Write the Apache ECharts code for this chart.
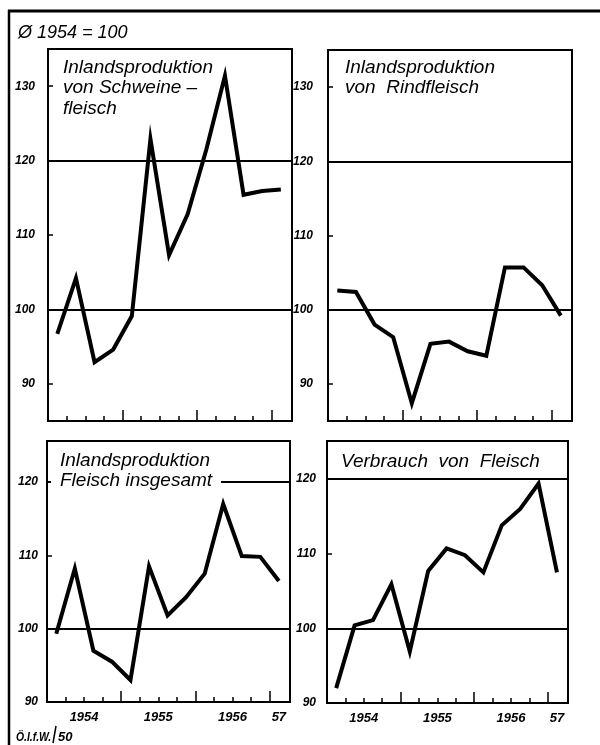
<!DOCTYPE html>
<html><head><meta charset="utf-8">
<script src="https://cdn.jsdelivr.net/npm/echarts@6/dist/echarts.min.js"></script>
<style>html,body{margin:0;padding:0;background:#fff}#c{width:600px;height:745px}</style>
</head><body><div id="c"></div>
<script>
// ---- data ----
const quarters = ['1954 I','1954 II','1954 III','1954 IV','1955 I','1955 II','1955 III','1955 IV','1956 I','1956 II','1956 III','1956 IV','1957 I'];
const schweinefleisch = [96.7,104.2,92.9,94.6,99.1,122.9,107.3,112.8,121.5,131.4,115.4,115.9,116.1];
const rindfleisch     = [102.6,102.4,98.0,96.3,87.4,95.4,95.7,94.4,93.8,105.7,105.7,103.3,99.2];
const fleischGesamt   = [99.3,108.2,97.0,95.5,93.0,108.5,101.8,104.3,107.5,117.0,109.9,109.8,106.5];
const verbrauch       = [92.0,100.4,101.1,105.9,96.9,107.7,110.7,109.8,107.5,113.8,116.0,119.4,107.5];
const yearLabels = ['1954','1955','1956','57'];
const yTicksTop = [90,100,110,120,130];
const yTicksBottom = [90,100,110,120];
const refLines = [100,120];
const titles = ['Inlandsproduktion\nvon Schweine –\nfleisch','Inlandsproduktion\nvon  Rindfleisch','Inlandsproduktion\nFleisch insgesamt','Verbrauch  von  Fleisch'];

// ---- derived from quarters ----
const years = quarters.map(q => q.split(' ')[0]);
const uniqYears = [...new Set(years)];
const yearCenters = uniqYears.map(y => {
  const idx = years.map((v,i)=>v===y?i:-1).filter(i=>i>=0);
  return (idx[0] + idx[idx.length-1]) / 2 + 0.5;
});
const quarterTicks = []; const yearTicks = [];
for (let i = 1; i < quarters.length; i++) {
  if (years[i] !== years[i-1]) yearTicks.push(i); else quarterTicks.push(i);
}

const FONT = 'Liberation Sans';
const X_MAX = 13.1;
const panels = [
  {data: schweinefleisch, left:48, top:49, width:244, height:372, min:85, max:135, yt:yTicksTop, xl:false, lm:13},
  {data: rindfleisch, left:328, top:50, width:244, height:371, min:85, max:135, yt:yTicksTop, xl:false, lm:15},
  {data: fleischGesamt, left:47, top:441, width:243, height:261, min:90, max:125.6, yt:yTicksBottom, xl:true, lm:9},
  {data: verbrauch, left:327, top:441, width:241, height:262, min:90, max:125.1, yt:yTicksBottom, xl:true, lm:11}
];

const blk = '#000';
const grid = [], xAxis = [], yAxis = [], series = [];
panels.forEach((p, i) => {
  grid.push({left:p.left, top:p.top, width:p.width, height:p.height, show:true, borderColor:blk, borderWidth:2, backgroundColor:'transparent'});
  xAxis.push({
    gridIndex:i, type:'value', min:0, max:X_MAX, position:'bottom',
    axisLine:{show:true, lineStyle:{color:blk, width:2}},
    axisTick:{show:true, inside:true, length:5, customValues:quarterTicks, lineStyle:{color:blk, width:1.5}},
    axisLabel: p.xl ? {show:true, customValues:yearCenters, margin:9, color:blk, fontFamily:FONT, fontStyle:'italic', fontWeight:'bold', fontSize:13,
      formatter: v => { const k = yearCenters.findIndex(c => Math.abs(c - v) < 1e-6); return k >= 0 ? yearLabels[k] : ''; }} : {show:false},
    splitLine:{show:false}
  });
  xAxis.push({
    gridIndex:i, type:'value', min:0, max:X_MAX, position:'bottom',
    axisLine:{show:false},
    axisTick:{show:true, inside:true, length:11, customValues:yearTicks, lineStyle:{color:blk, width:1.5}},
    axisLabel:{show:false}, splitLine:{show:false}
  });
  yAxis.push({
    gridIndex:i, type:'value', min:p.min, max:p.max,
    axisLine:{show:true, lineStyle:{color:blk, width:2}},
    axisTick:{show:true, inside:true, length:5, customValues:p.yt, lineStyle:{color:blk, width:1.5}},
    axisLabel:{show:true, customValues:p.yt, margin:p.lm, color:blk, fontFamily:FONT, fontStyle:'italic', fontWeight:'bold', fontSize:12},
    splitLine:{show:false}
  });
  series.push({
    type:'line', xAxisIndex:2*i, yAxisIndex:i,
    data: p.data.map((v,k) => [k + 0.5, v]),
    symbol:'none', silent:true,
    lineStyle:{color:blk, width:4, join:'miter', cap:'butt'},
    markLine:{silent:true, symbol:['none','none'], label:{show:false}, animation:false,
      lineStyle:{color:blk, width:2, type:'solid'},
      data: refLines.map(r => ({yAxis:r}))}
  });
});

const ts = (extra) => Object.assign({fontFamily:FONT, fontStyle:'italic', fontWeight:'normal', fontSize:19, lineHeight:20.5, color:blk}, extra||{});
const title = [
  {text:'Ø 1954 = 100', left:18, top:24, padding:0, textStyle:ts({fontSize:18, lineHeight:18})},
  {text:titles[0], left:63, top:57, padding:0, textStyle:ts()},
  {text:titles[1], left:345, top:57, padding:0, textStyle:ts()},
  {text:titles[2], left:51, top:450, padding:[0,9,0,9], backgroundColor:'#fff', textStyle:ts()},
  {text:titles[3], left:341, top:451, padding:0, textStyle:ts()}
];

const chart = echarts.init(document.getElementById('c'), null, {renderer:'canvas'});
chart.setOption({
  animation:false,
  backgroundColor:'#fff',
  title, grid, xAxis, yAxis, series,
  graphic:[
    {type:'line', shape:{x1:9, y1:10, x2:9, y2:745}, style:{stroke:blk, lineWidth:2.5}},
    {type:'line', shape:{x1:8, y1:11, x2:600, y2:11}, style:{stroke:blk, lineWidth:3}},
    {type:'text', x:16, y:731, scaleX:0.8, style:{text:'Ö.I.f.W.', fill:blk, fontSize:13, fontStyle:'italic', fontWeight:'bold', fontFamily:FONT}},
    {type:'line', shape:{x1:53, y1:743, x2:56, y2:726}, style:{stroke:blk, lineWidth:1.5}},
    {type:'text', x:58, y:731, style:{text:'50', fill:blk, fontSize:13, fontStyle:'italic', fontWeight:'bold', fontFamily:FONT}}
  ]
});
</script></body></html>
